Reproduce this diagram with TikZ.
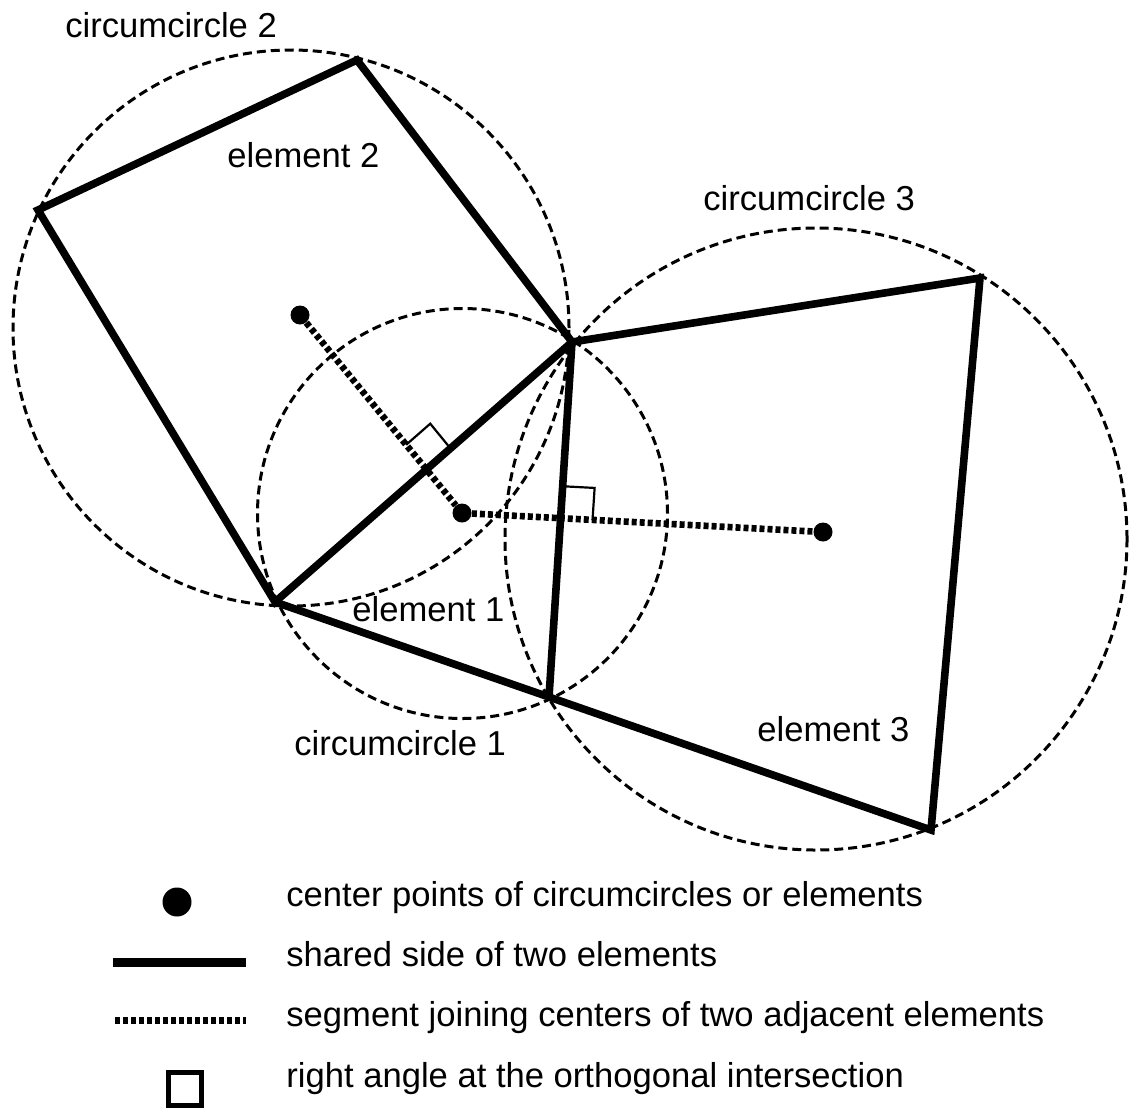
\documentclass[tikz,border=0pt]{standalone}
\usepackage{fontspec}
\setmainfont{Liberation Sans}
\usetikzlibrary{calc}

\begin{document}
\begin{tikzpicture}[x=0.5pt, y=-0.5pt,
    side/.style={line width=3.8pt},
    circum/.style={line width=1.5pt, dash pattern=on 4.5pt off 2.5pt},
    joinseg/.style={line width=3.3pt, dash pattern=on 2.5pt off 1.5pt},
    rightangle/.style={line width=1.1pt},
    centerdot/.style={circle, fill, inner sep=0pt, minimum size=9.5pt},
    lbl/.style={anchor=base west, inner sep=0pt, font=\fontsize{17.3pt}{20pt}\selectfont}]
    % Frame
    \fill[white] (0,0) rectangle (1133,1109);
    \useasboundingbox (0,0) rectangle (1133,1109);

    % Corner points of the elements
    \coordinate (A) at (275,602);
    \coordinate (B) at (572,342);
    \coordinate (C) at (549,697);
    \coordinate (Q) at (38,210);
    \coordinate (P) at (357,60);
    \coordinate (R) at (980,278);
    \coordinate (S) at (931,830);

    % Circumcircles
    \draw[circum] (462.5,513.5) circle[radius=102.5pt];
    \draw[circum] (291,328) circle[radius=139pt];
    \draw[circum] (816,539) circle[radius=155.5pt];

    % Center points
    \node[centerdot] (dot1) at (462,513) {};
    \node[centerdot] (dot2) at (300,315) {};
    \node[centerdot] (dot3) at (823,532) {};

    % Segments joining centers
    \draw[joinseg] (dot2) -- (dot1);
    \draw[joinseg] (dot1) -- (dot3);

    % Elements
    \draw[side] (A) -- (Q) -- (P) -- (B) -- cycle;
    \draw[side] (A) -- (C) -- (B);
    \draw[side] (B) -- (R) -- (S) -- (C);

    % Right angles
    \coordinate (I1) at (intersection of dot2--dot1 and A--B);
    \coordinate (I1a) at ($(I1)!16pt!(dot2)$);
    \coordinate (I1b) at ($(I1)!16pt!(B)$);
    \draw[rightangle] (I1a) -- ($(I1a)+(I1b)-(I1)$) -- (I1b);
    \coordinate (I2) at (intersection of dot1--dot3 and B--C);
    \coordinate (I2a) at ($(I2)!16pt!(B)$);
    \coordinate (I2b) at ($(I2)!16pt!(dot3)$);
    \draw[rightangle] (I2a) -- ($(I2a)+(I2b)-(I2)$) -- (I2b);

    % Labels
    \node[lbl] (circ2) at (65,37) {circumcircle 2};
    \node[lbl] (elem2) at (227,167) {element 2};
    \node[lbl] (circ3) at (703,210) {circumcircle 3};
    \node[lbl] (elem1) at (352,621) {element 1};
    \node[lbl] (circ1) at (294,755) {circumcircle 1};
    \node[lbl] (elem3) at (757,741) {element 3};

    % Legend
    \node[centerdot, minimum size=14.5pt] (keydot) at (177,902) {};
    \draw[side, line width=4.5pt] (113,962) -- (246,962);
    \draw[joinseg, line width=3.5pt] (115,1020) -- (246,1020);
    \draw[rightangle, line width=2.75pt] (168.5,1072.5) rectangle (201.5,1105.5);
    \node[lbl] (key1) at (286,906) {center points of circumcircles or elements};
    \node[lbl] (key2) at (286,966) {shared side of two elements};
    \node[lbl] (key3) at (286,1026) {segment joining centers of two adjacent elements};
    \node[lbl] (key4) at (286,1087) {right angle at the orthogonal intersection};
\end{tikzpicture}
\end{document}
